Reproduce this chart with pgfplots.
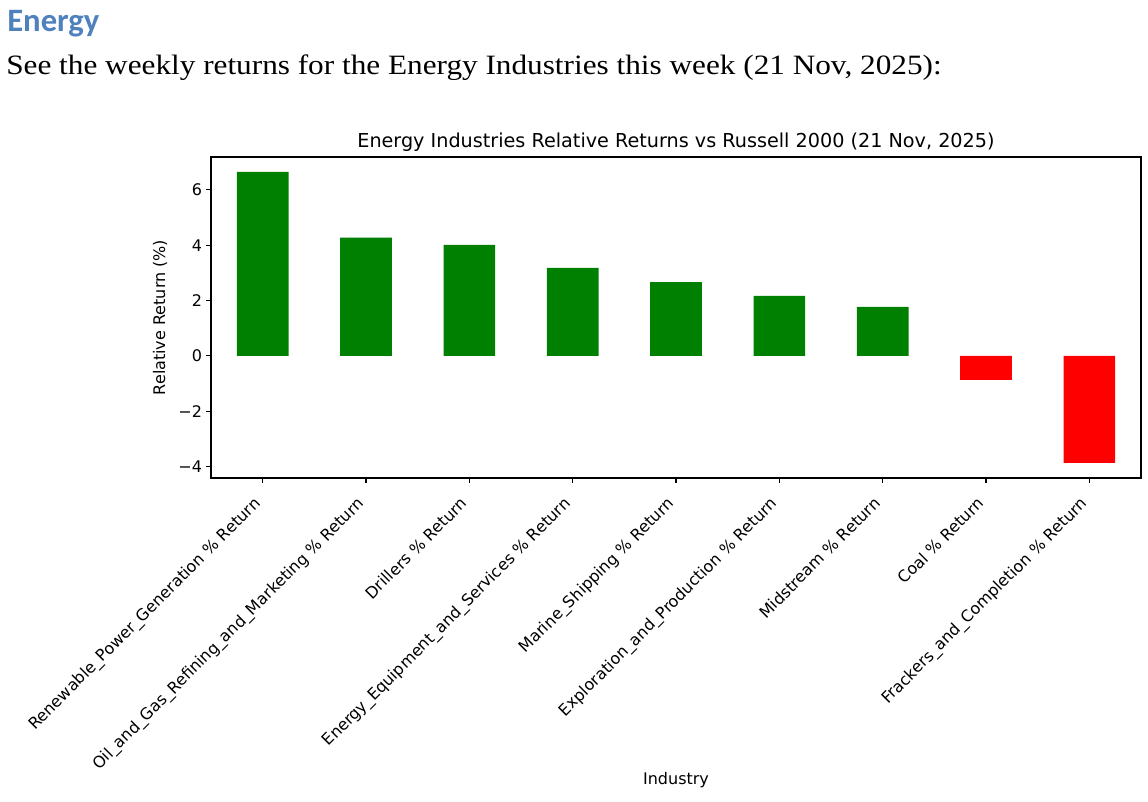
\documentclass[border=0pt]{standalone}
\usepackage{fontspec}
\setmainfont{DejaVu Sans}
\newfontfamily\headfont{Carlito}
\newfontfamily\bodyfont[FakeStretch=1.116]{Liberation Serif}
\usepackage{pgfplots}
\pgfplotsset{compat=1.18}
\definecolor{headblue}{RGB}{79,129,189}
\definecolor{mplgreen}{RGB}{0,128,0}
\definecolor{mplred}{RGB}{255,0,0}

% values (relative return, %)
\pgfplotstableread{
x y
0 6.65
1 4.28
2 4.01
3 3.18
4 2.67
5 2.17
6 1.77
}\posdata
\pgfplotstableread{
x y
7 -0.86
8 -3.86
}\negdata

\begin{document}
\begin{tikzpicture}
% page frame, 1148 x 802 px at 0.75pt per px
\useasboundingbox (0,0) rectangle (861pt,-601.5pt);

\node[anchor=base west, inner sep=0pt, text=headblue]
  at (5.25pt,-24pt) {\headfont\bfseries\fontsize{24.5}{28}\selectfont Energy};
\node[anchor=base west, inner sep=0pt]
  at (4.5pt,-56.25pt) {\bodyfont\fontsize{21}{25}\selectfont See the weekly returns for the Energy Industries this week (21 Nov, 2025):};

\begin{axis}[
  at={(158.25pt,-117.75pt)}, anchor=north west,
  scale only axis,
  width=697.5pt, height=240.75pt,
  xmin=-0.5, xmax=8.5,
  ymin=-4.41, ymax=7.19,
  axis line style={line width=0.8pt},
  tick style={line width=0.8pt, black},
  major tick length=3.6pt,
  tick align=outside,
  xtick pos=bottom, ytick pos=left,
  xtick={0,...,8},
  xticklabels={
    Renewable\_Power\_Generation \% Return,
    Oil\_and\_Gas\_Refining\_and\_Marketing \% Return,
    Drillers \% Return,
    Energy\_Equipment\_and\_Services \% Return,
    Marine\_Shipping \% Return,
    Exploration\_and\_Production \% Return,
    Midstream \% Return,
    Coal \% Return,
    Frackers\_and\_Completion \% Return},
  ytick={-4,-2,0,2,4,6},
  yticklabels={−4,−2,0,2,4,6},
  ticklabel style={font=\fontsize{12}{14}\selectfont, text=black},
  xticklabel style={rotate=45, anchor=north east, inner sep=1pt, xshift=-11pt, yshift=-0.5pt},
  yticklabel style={inner sep=1pt, xshift=-2pt},
  title={Energy Industries Relative Returns vs Russell 2000 (21 Nov, 2025)},
  title style={font=\fontsize{14.4}{17}\selectfont, at={(axis description cs:0.5,1)}, anchor=base, yshift=1.5pt},
  xlabel={Industry},
  xlabel style={font=\fontsize{12}{14}\selectfont, at={(axis description cs:0.5,0)}, anchor=base, yshift=-230pt},
  ylabel={Relative Return (\%)},
  ylabel style={font=\fontsize{12}{14}\selectfont, at={(axis description cs:-0.0548,0.5)}, anchor=center},
  ybar, bar width=0.5, bar shift=0pt,
]
\addplot[fill=mplgreen, draw=none] table[x=x, y=y] {\posdata};
\addplot[fill=mplred, draw=none] table[x=x, y=y] {\negdata};
\end{axis}
\end{tikzpicture}
\end{document}
